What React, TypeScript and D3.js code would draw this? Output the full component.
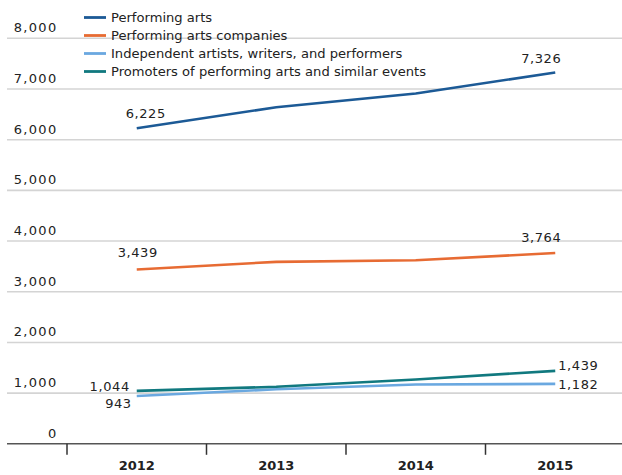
import React from "react";
import * as d3 from "d3";

const years = ["2012", "2013", "2014", "2015"];
const performingArts = [6225, 6640, 6910, 7326];
const companies = [3439, 3590, 3620, 3764];
const independent = [943, 1075, 1170, 1182];
const promoters = [1044, 1125, 1270, 1439];
const yTicks = [0, 1000, 2000, 3000, 4000, 5000, 6000, 7000, 8000];

const seriesNames = [
  "Performing arts",
  "Performing arts companies",
  "Independent artists, writers, and performers",
  "Promoters of performing arts and similar events",
];
const seriesColors = ["#1c5a96", "#e76b33", "#6aa8e0", "#11797f"];

const W = 622;
const H = 475;
const FONT = "DejaVu Sans, sans-serif";

export default function App() {
  const x = d3.scaleBand<string>().domain(years).range([67, 625]).padding(0);
  const y = d3.scaleLinear().domain([0, 8000]).range([443.8, 38.3]);
  const cx = (yr: string) => (x(yr) as number) + x.bandwidth() / 2;
  const line = d3
    .line<number>()
    .x((_, i) => cx(years[i]))
    .y((v) => y(v));
  const all = [performingArts, companies, independent, promoters];
  const fmt = d3.format(",");
  const first = years[0];
  const last = years[years.length - 1];
  const n = years.length - 1;

  return (
    <svg
      width={W}
      height={H}
      style={{ position: "absolute", left: 0, top: 0, background: "#fff" }}
      fontFamily={FONT}
    >
      {yTicks.map((t) => (
        <g key={t}>
          {t !== 0 && (
            <line x1={7} x2={622} y1={y(t)} y2={y(t)} stroke="#d4d4d4" strokeWidth={1.6} />
          )}
          <text
            x={57.5}
            y={y(t) - 6}
            textAnchor="end"
            fontSize={13}
            letterSpacing={1.3}
            fill="#222"
          >
            {fmt(t)}
          </text>
        </g>
      ))}
      <line x1={7} x2={622} y1={y(0)} y2={y(0)} stroke="#555" strokeWidth={1.6} />
      {years.map((yr) => (
        <g key={yr}>
          <line
            x1={x(yr) as number}
            x2={x(yr) as number}
            y1={y(0)}
            y2={y(0) + 11}
            stroke="#333"
            strokeWidth={1.5}
          />
          <text
            x={cx(yr)}
            y={470}
            textAnchor="middle"
            fontSize={13}
            fontWeight="bold"
            fill="#222"
          >
            {yr}
          </text>
        </g>
      ))}
      {all.map((s, i) => (
        <path
          key={i}
          d={line(s) as string}
          fill="none"
          stroke={seriesColors[i]}
          strokeWidth={2.6}
        />
      ))}
      {/* value labels */}
      <g fontSize={13} fill="#222" letterSpacing={0.6}>
        <text x={cx(first) + 9} y={y(performingArts[0]) - 10} textAnchor="middle">
          {fmt(performingArts[0])}
        </text>
        <text x={cx(last) - 14} y={y(performingArts[n]) - 9} textAnchor="middle">
          {fmt(performingArts[n])}
        </text>
        <text x={cx(first) + 1} y={y(companies[0]) - 12} textAnchor="middle">
          {fmt(companies[0])}
        </text>
        <text x={cx(last) - 14} y={y(companies[n]) - 11} textAnchor="middle">
          {fmt(companies[n])}
        </text>
        <text x={cx(first) - 7} y={y(promoters[0]) + 0.5} textAnchor="end">
          {fmt(promoters[0])}
        </text>
        <text x={cx(first) - 5} y={y(independent[0]) + 12} textAnchor="end">
          {fmt(independent[0])}
        </text>
        <text x={cx(last) + 3} y={y(promoters[n]) - 1} textAnchor="start">
          {fmt(promoters[n])}
        </text>
        <text x={cx(last) + 3} y={y(independent[n]) + 5} textAnchor="start">
          {fmt(independent[n])}
        </text>
      </g>
      {/* legend */}
      {seriesNames.map((name, i) => (
        <g key={name} transform={`translate(84, ${17.5 + i * 18})`}>
          <line x1={0} x2={22} y1={0} y2={0} stroke={seriesColors[i]} strokeWidth={2.8} />
          <text x={27} y={4.7} fontSize={13.1} fill="#222">
            {name}
          </text>
        </g>
      ))}
    </svg>
  );
}
